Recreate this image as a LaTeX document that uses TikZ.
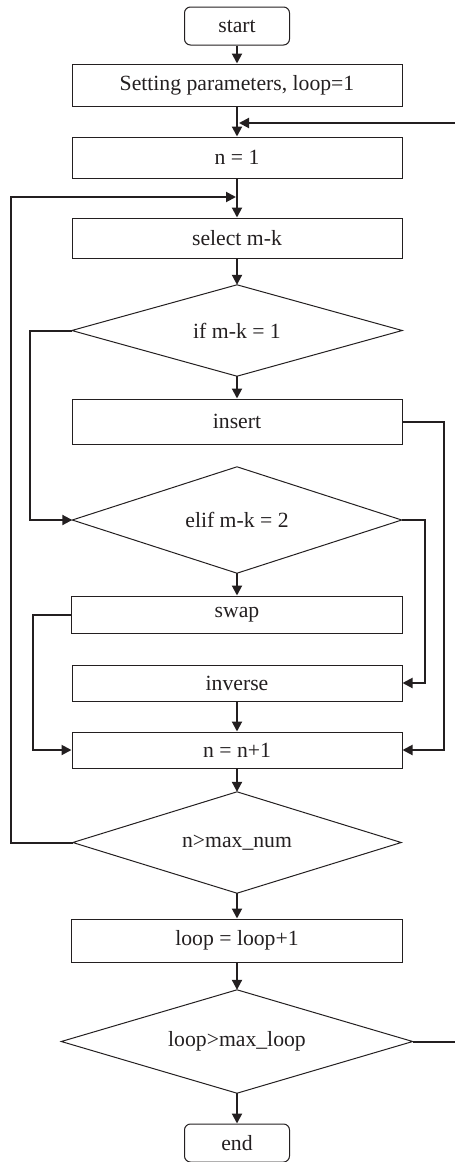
\documentclass[tikz,border=0pt]{standalone}
\usepackage{fontspec}
\setmainfont{Liberation Serif}
\usetikzlibrary{arrows.meta}
\definecolor{ink}{HTML}{231F20}
\begin{document}
\begin{tikzpicture}[x=1pt,y=-1pt,
  every node/.style={font=\fontsize{21.7}{24}\selectfont, text=ink},
  proc/.style={draw=ink, line width=1pt, rectangle, minimum width=330pt, inner sep=0pt},
  term/.style={draw=ink, line width=1pt, rounded corners=6pt, minimum width=105pt, minimum height=38pt, inner sep=0pt},
  dec/.style={rectangle, inner sep=0pt},
  decline/.style={draw=ink, line width=1pt, line join=miter},
  flow/.style={draw=ink, line width=2pt, -{Triangle[length=10pt,width=10pt]}},
  link/.style={draw=ink, line width=2pt}]
\useasboundingbox (0,0) rectangle (455,1162);

% boxes and decisions, top to bottom
\node[term] (start) at (237,26) {start};
\node[proc, minimum height=42pt] (setp) at (237,85) {Setting parameters, loop=1};
\node[proc, minimum height=41pt] (n1) at (237,157.5) {n = 1};
\node[proc, minimum height=40pt] (sel) at (237,238) {select m-k};
\node[dec, minimum width=330pt, minimum height=91pt] (if1) at (237,330.5) {if m-k = 1};
\node[proc, minimum height=45pt] (ins) at (237,421.5) {insert};
\node[dec, minimum width=329pt, minimum height=106pt] (elif) at (237,520) {elif m-k = 2};
\node[proc, minimum height=37pt, minimum width=331pt] (swap) at (237,614.5) {swap};
\node[proc, minimum height=36pt] (inv) at (237,683) {inverse};
\node[proc, minimum height=36pt] (np1) at (237,750) {n = n+1};
\node[dec, minimum width=328pt, minimum height=101pt] (nmax) at (237,842.5) {n>max\_num};
\node[proc, minimum height=43pt, minimum width=331pt] (lp1) at (237,940.5) {loop = loop+1};
\node[dec, minimum width=351pt, minimum height=103pt] (lmax) at (237,1041.5) {loop>max\_loop};
\node[term] (end) at (237,1143) {end};

% diamond outlines of the decisions
\foreach \d in {if1,elif,nmax,lmax}
  \draw[decline] (\d.north) -- (\d.east) -- (\d.south) -- (\d.west) -- cycle;

% free ends of the outer loop and the junctions on the main line
\coordinate (rin) at (455,123);
\coordinate (tj) at (239,123);
\coordinate (lj) at (236,197);
\coordinate (rout) at (455,1041.5);

% main flow
\draw[flow] (start) -- (setp);
\draw[flow] (setp) -- (n1);
\draw[flow] (n1) -- (sel);
\draw[flow] (sel) -- (if1);
\draw[flow] (if1) -- (ins);
\draw[flow] (elif) -- (swap);
\draw[flow] (inv) -- (np1);
\draw[flow] (np1) -- (nmax);
\draw[flow] (nmax) -- (lp1);
\draw[flow] (lp1) -- (lmax);
\draw[flow] (lmax) -- (end);

% branches
\draw[flow] (if1.west) -- ++(-42,0) |- (elif.west);
\draw[flow] (ins.east) -- ++(41,0) |- (np1.east);
\draw[flow] (elif.east) -- ++(23,0) |- (inv.east);
\draw[flow] (swap.west) -- ++(-38,0) |- (np1.west);
\draw[flow] (nmax.west) -- ++(-62,0) |- (lj);

% outer loop
\draw[link] (lmax.east) -- (rout);
\draw[flow] (rin) -- (tj);
\end{tikzpicture}
\end{document}
